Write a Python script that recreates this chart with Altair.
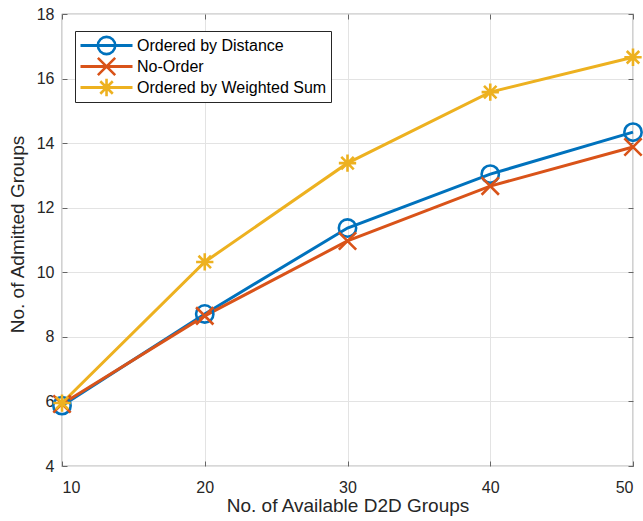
import math
import altair as alt
import pandas as pd

# ---- data ----
x_vals = [10, 20, 30, 40, 50]
series_names = ["Ordered by Distance", "No-Order", "Ordered by Weighted Sum"]
ordered_by_distance = [5.87, 8.71, 11.37, 13.04, 14.34]
no_order = [5.92, 8.65, 10.97, 12.67, 13.88]
ordered_by_weighted_sum = [5.95, 10.32, 13.38, 15.58, 16.66]
x_ticks = [10, 20, 30, 40, 50]
y_ticks = [4, 6, 8, 10, 12, 14, 16, 18]

colors = ["#0072BD", "#D95319", "#EDB120"]
shape_circle = "circle"
shape_x = "M-1,-1L1,1M-1,1L1,-1"
shape_star = "M0,-1L0,1M-1,0L1,0M-0.72,-0.72L0.72,0.72M-0.72,0.72L0.72,-0.72"
shapes = [shape_circle, shape_x, shape_star]

rows = []
for i, (name, vals) in enumerate(zip(series_names,
                                      [ordered_by_distance, no_order, ordered_by_weighted_sum])):
    for xv, yv in zip(x_vals, vals):
        rows.append({"groups": xv, "admitted": yv, "series": name, "marker": name, "z": i})
df = pd.DataFrame(rows)

W, H = 571, 452
FONT = "Liberation Sans"
TICK_FS = 16
TITLE_FS = 19
LEG_FS = 16
AX = "#666666"
GRID = "#e3e3e3"
TXT = "#262626"

xscale = alt.Scale(domain=[10, 50], nice=False, zero=False)
yscale = alt.Scale(domain=[4, 18], nice=False, zero=False)

LINE_SYM = 2704
MARK_SYM = 300
LW = 3
MW = 2.6
line_off = math.sqrt(LINE_SYM) + LW
mark_off = math.sqrt(MARK_SYM) + MW
sym_shift = line_off / 2 - mark_off / 2

LEG_X, LEG_Y = 13, 17
legend_common = dict(orient="none", legendX=LEG_X, legendY=LEG_Y, title=None,
                     padding=4, clipHeight=21, rowPadding=0,
                     labelFont=FONT, labelFontSize=LEG_FS, labelColor="#000000",
                     labelLimit=400)

line_legend = alt.Legend(symbolType="stroke", symbolSize=LINE_SYM, symbolStrokeWidth=LW,
                         fillColor="white", strokeColor="#262626", cornerRadius=0,
                         labelOffset=3, zindex=1, **legend_common)
mark_legend = alt.Legend(symbolSize=MARK_SYM, symbolStrokeWidth=MW,
                         symbolFillColor="transparent",
                         symbolOffset=sym_shift, labelExpr="''",
                         labelOffset=3, zindex=2, **legend_common)

inner_tick = dict(labels=False, title=None, grid=False, domain=False, ticks=True,
                  tickSize=5, tickColor=AX, tickWidth=1)

base = alt.Chart(df)

lines = base.mark_line(strokeWidth=LW).encode(
    x=alt.X("groups:Q", scale=xscale,
            axis=alt.Axis(orient="bottom", values=x_ticks, title="No. of Available D2D Groups",
                          grid=True, gridColor=GRID, gridWidth=1, ticks=False, tickSize=0,
                          domain=False, labelFont=FONT, labelFontSize=TICK_FS, labelColor=TXT,
                          labelPadding=13, titleFont=FONT, titleFontSize=TITLE_FS,
                          titleFontWeight="normal", titleColor=TXT, titlePadding=1)),
    y=alt.Y("admitted:Q", scale=yscale,
            axis=alt.Axis(orient="left", values=y_ticks, title="No. of Admitted Groups",
                          grid=True, gridColor=GRID, gridWidth=1, ticks=False, tickSize=0,
                          domain=False, labelFont=FONT, labelFontSize=TICK_FS, labelColor=TXT,
                          labelPadding=8, titleFont=FONT, titleFontSize=TITLE_FS,
                          titleFontWeight="normal", titleColor=TXT, titlePadding=9,
                          titleY=220)),
    stroke=alt.Stroke("series:N", sort=series_names, scale=alt.Scale(range=colors),
                      legend=line_legend),
    detail="series:N",
)

points = base.mark_point(filled=False, size=MARK_SYM, strokeWidth=MW, opacity=1).encode(
    x=alt.X("groups:Q", scale=xscale,
            axis=alt.Axis(orient="top", offset=-H, values=x_ticks, **inner_tick)),
    y=alt.Y("admitted:Q", scale=yscale,
            axis=alt.Axis(orient="right", offset=-W, values=y_ticks, **inner_tick)),
    color=alt.Color("marker:N", scale=alt.Scale(domain=series_names, range=colors),
                    legend=mark_legend),
    shape=alt.Shape("marker:N", scale=alt.Scale(domain=series_names, range=shapes),
                    legend=mark_legend),
    order="z:Q",
)

frame_ticks = base.mark_point(opacity=0).encode(
    x=alt.X("groups:Q", scale=xscale,
            axis=alt.Axis(orient="bottom", offset=-H, values=x_ticks, **inner_tick)),
    y=alt.Y("admitted:Q", scale=yscale,
            axis=alt.Axis(orient="left", offset=-W, values=y_ticks, **inner_tick)),
)

chart = alt.layer(lines, points, frame_ticks).resolve_axis(
    x="independent", y="independent"
).properties(
    width=W, height=H,
    autosize=alt.AutoSizeParams(type="none"),
    padding={"left": 62, "top": 14, "right": 10, "bottom": 55},
    background="white",
).configure_view(stroke=AX, strokeWidth=1.2)

chart.save("out.html", embed_options={"renderer": "svg", "actions": False})
